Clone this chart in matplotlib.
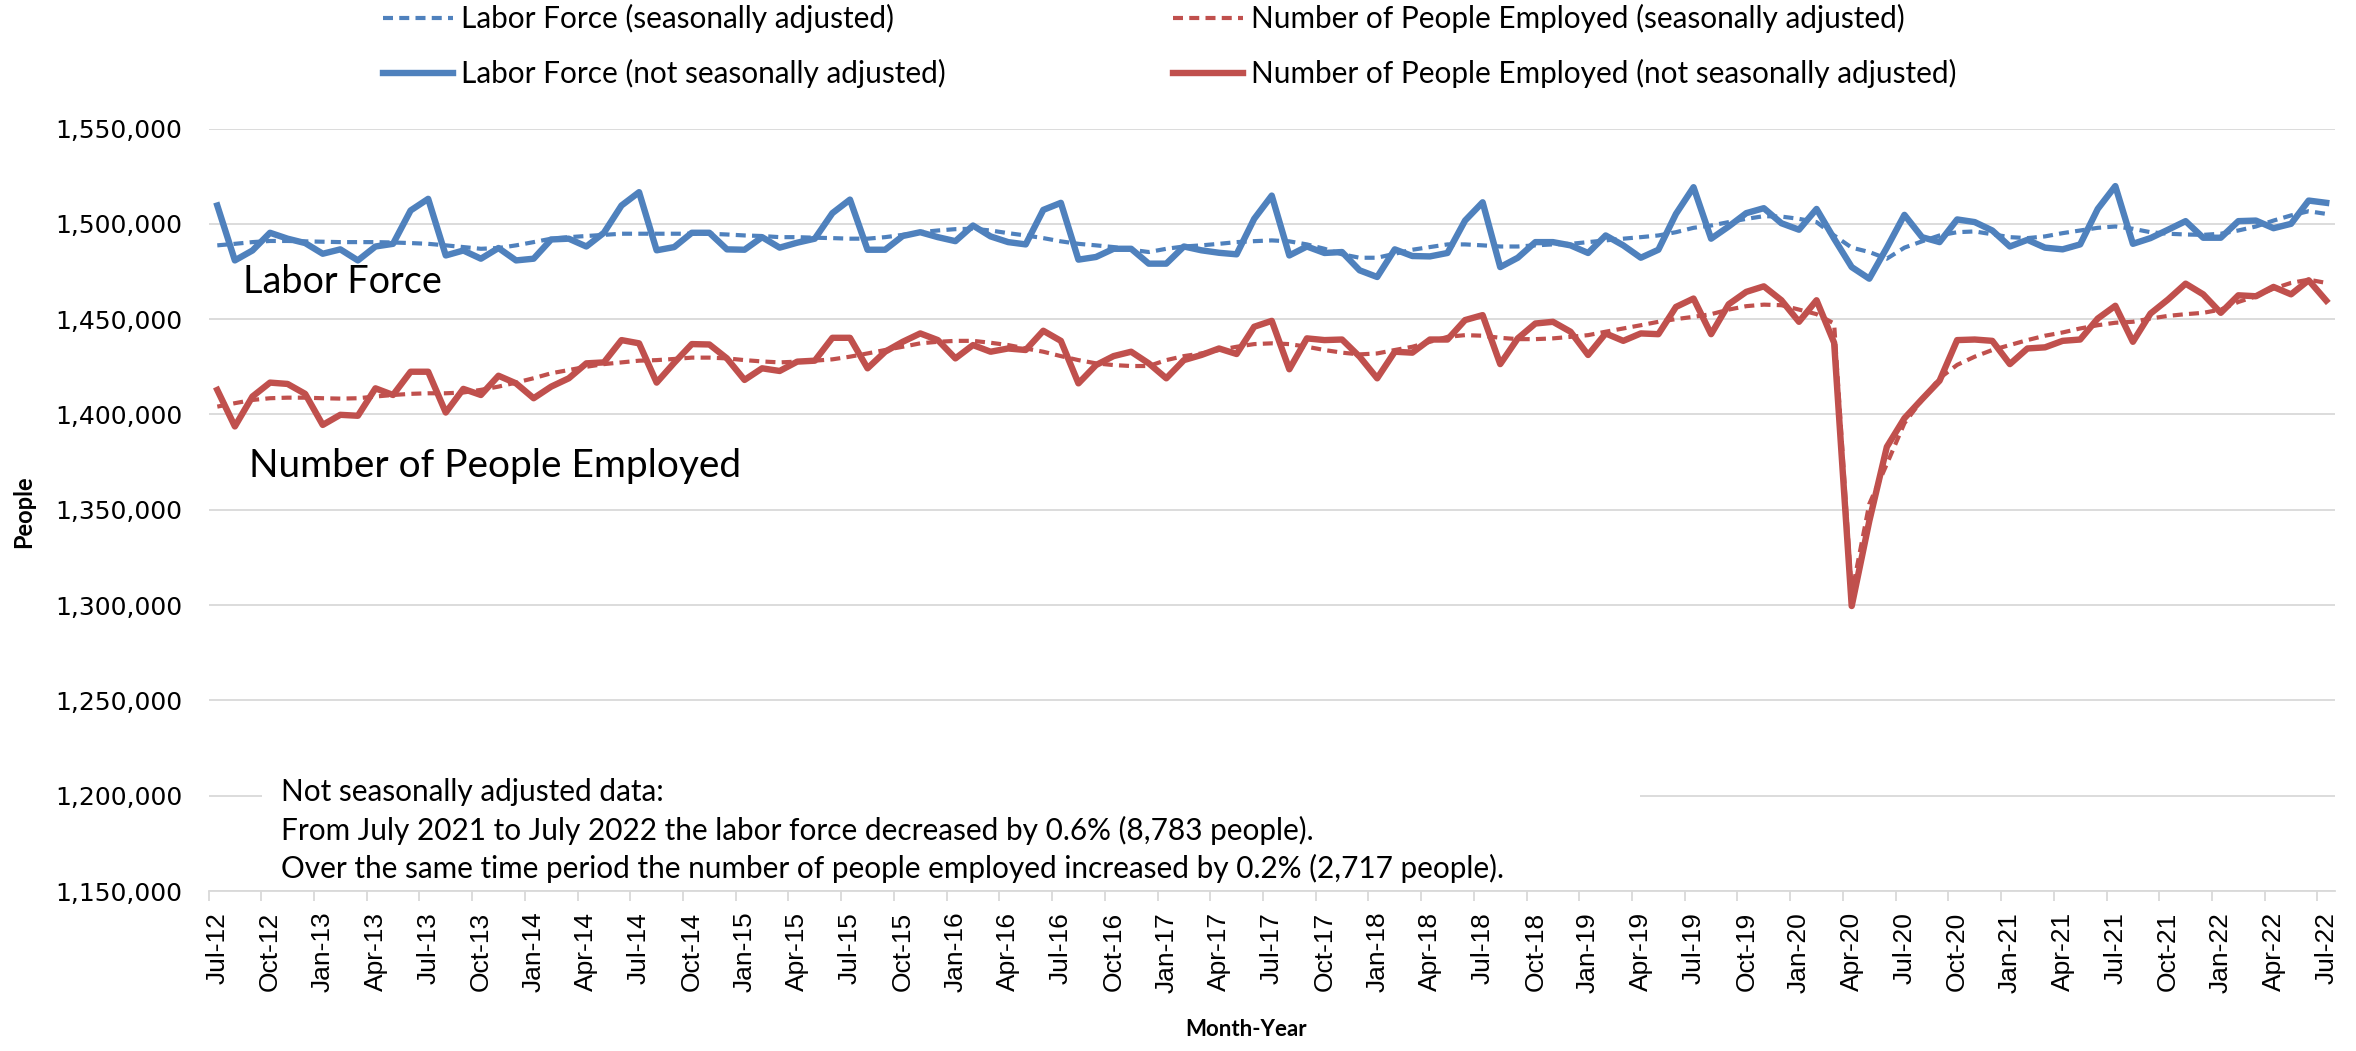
import matplotlib
matplotlib.use("Agg")
import matplotlib.pyplot as plt
import numpy as np
import pandas as pd
from matplotlib.patches import Rectangle
from matplotlib.ticker import FuncFormatter

# ---------------- data ----------------
months = pd.date_range("2012-07-01", "2022-07-01", freq="MS")
month_labels = [d.strftime("%b-%y") for d in months]

labor_force_nsa = [
    1509600, 1480800, 1486000, 1495300, 1492200, 1489900, 1484300, 1486600, 1480800, 1488100,
    1489500, 1507000, 1513100, 1483400, 1486000, 1481700, 1487300, 1480800, 1481700, 1491800,
    1492200, 1488100, 1495300, 1509600, 1516600, 1486100, 1487800, 1495300, 1495300, 1486600,
    1486400, 1493000, 1487500, 1490100, 1492200, 1505600, 1512700, 1486400, 1486400, 1493600,
    1495600, 1493000, 1490900, 1499100, 1493400, 1490400, 1489200, 1507300, 1511000, 1481200,
    1482600, 1486900, 1486900, 1479100, 1479100, 1488100, 1486100, 1484800, 1484000, 1502600,
    1514800, 1483400, 1488100, 1484700, 1485200, 1475600, 1472100, 1486600, 1483100, 1482900,
    1484700, 1501700, 1511300, 1477300, 1482200, 1490400, 1490400, 1488700, 1484700, 1493900,
    1488700, 1482200, 1486400, 1505200, 1519200, 1492200, 1498600, 1505600, 1508200, 1500300,
    1496900, 1507800, 1492200, 1477300, 1471200, 1487500, 1504700, 1493000, 1490400, 1502300,
    1500900, 1496500, 1488100, 1491600, 1487500, 1486600, 1489200, 1507800, 1519800, 1489500,
    1492500, 1496900, 1501400, 1492700, 1492700, 1501400, 1501700, 1497700, 1500000, 1512200,
    1511017,
]

labor_force_sa = [
    1488700, 1489500, 1490400, 1491000, 1491000, 1490800, 1490600, 1490400, 1490400, 1490400,
    1490200, 1489900, 1489500, 1488700, 1487800, 1486900, 1487300, 1488700, 1490400, 1492200,
    1493000, 1493600, 1494200, 1494800, 1494800, 1494800, 1494800, 1494800, 1494800, 1494400,
    1493900, 1493600, 1493000, 1493000, 1492700, 1492500, 1492200, 1492200, 1493000, 1494200,
    1495600, 1496500, 1497200, 1497400, 1496500, 1495100, 1493900, 1492500, 1490800, 1489500,
    1488700, 1487800, 1486400, 1485200, 1486900, 1488100, 1488700, 1489500, 1490400, 1490900,
    1491300, 1490800, 1489200, 1486900, 1484000, 1482200, 1482200, 1484300, 1486400, 1487800,
    1489200, 1489200, 1488700, 1488100, 1488100, 1488700, 1489200, 1489500, 1490400, 1491300,
    1492200, 1493000, 1493900, 1495600, 1497900, 1499100, 1500900, 1502600, 1504000, 1503800,
    1502600, 1500900, 1493900, 1487500, 1485200, 1481700, 1487500, 1490800, 1493900, 1495600,
    1496000, 1494500, 1493000, 1492500, 1493400, 1495100, 1496500, 1497900, 1498600, 1497400,
    1495600, 1494800, 1494400, 1494200, 1494800, 1496500, 1498600, 1501700, 1504400, 1506600,
    1505200,
]

employed_nsa = [
    1412850, 1393700, 1409400, 1416700, 1416000, 1410800, 1394500, 1399800, 1399300, 1413700,
    1410200, 1422400, 1422400, 1401000, 1413400, 1410200, 1420300, 1416300, 1408500, 1414600,
    1418950, 1426800, 1427300, 1439000, 1437300, 1416700, 1427100, 1436900, 1436700, 1429400,
    1418100, 1424200, 1422800, 1427700, 1428200, 1440200, 1440200, 1424200, 1432900, 1438100,
    1442500, 1439000, 1429400, 1436400, 1432900, 1434600, 1433800, 1443900, 1438600, 1416300,
    1425900, 1430600, 1432900, 1426800, 1418950, 1428500, 1431200, 1434600, 1431700, 1446000,
    1449100, 1423700, 1439900, 1439000, 1439300, 1430300, 1418950, 1432900, 1432400, 1439300,
    1439300, 1449500, 1452100, 1426400, 1439900, 1447700, 1448600, 1443400, 1431200, 1442500,
    1438600, 1442500, 1442100, 1456400, 1460800, 1442100, 1457800, 1464300, 1467200, 1459900,
    1448600, 1459900, 1437600, 1299500, 1344000, 1383000, 1398000, 1408000, 1417700, 1439000,
    1439300, 1438600, 1426400, 1434600, 1435200, 1438600, 1439300, 1450300, 1457000, 1438100,
    1452900, 1460300, 1468600, 1463000, 1453300, 1462500, 1462000, 1466900, 1463000, 1470400,
    1459717,
]

employed_sa = [
    1404100, 1405900, 1407600, 1408500, 1408800, 1408800, 1408500, 1408300, 1408500, 1409400,
    1410200, 1410800, 1411100, 1411100, 1411500, 1412900, 1414600, 1416700, 1419000, 1421600,
    1423300, 1425000, 1426400, 1427300, 1428200, 1428500, 1429100, 1429800, 1429800, 1429400,
    1428500, 1427800, 1427300, 1427700, 1428200, 1428900, 1430300, 1432000, 1433800, 1435500,
    1437300, 1438100, 1438600, 1438600, 1437600, 1436400, 1434600, 1432900, 1430600, 1428500,
    1426800, 1425900, 1425400, 1425400, 1428500, 1430600, 1432000, 1433800, 1435500, 1436900,
    1437300, 1436900, 1435500, 1433800, 1432400, 1431500, 1432000, 1433800, 1435500, 1438100,
    1440700, 1441600, 1441300, 1440200, 1439500, 1439500, 1439900, 1440700, 1441600, 1443400,
    1445100, 1446800, 1448600, 1450000, 1451200, 1452600, 1455000, 1456800, 1457600, 1457300,
    1455000, 1452600, 1447700, 1306000, 1353000, 1374000, 1395400, 1407600, 1419000, 1426000,
    1430300, 1433800, 1436400, 1439000, 1441300, 1443000, 1445100, 1446800, 1448100, 1448600,
    1450300, 1451700, 1452600, 1453300, 1455000, 1459000, 1462000, 1466000, 1469000, 1470700,
    1469000,
]

series_names = [
    "Labor Force (seasonally adjusted)",
    "Labor Force (not seasonally adjusted)",
    "Number of People Employed (seasonally adjusted)",
    "Number of People Employed (not seasonally adjusted)",
]

y_ticks = list(range(1150000, 1550001, 50000))

note_lines = [
    "Not seasonally adjusted data:",
    "From July 2021 to July 2022 the labor force decreased by 0.6% (8,783 people).",
    "Over the same time period the number of people employed increased by 0.2% (2,717 people).",
]

# ---------------- style ----------------
W, H = 2356, 1051
BLUE = "#4F81BD"
RED = "#C0504D"
GRID = "#D9D9D9"
TXT_FONT = ["Lato", "DejaVu Sans"]


def fx(px):
    return px / W


def fy(py):
    return 1 - py / H


fig = plt.figure(figsize=(W / 100, H / 100), dpi=100)
ax = fig.add_axes([fx(208.5), fy(891), fx(2335) - fx(208.5), fy(128.5) - fy(891)])

x = np.arange(len(months))
dash = (0, (2.4, 1.5))
l_lf_sa, = ax.plot(x, labor_force_sa, color=BLUE, lw=3.0, ls=dash, zorder=3)
l_lf_nsa, = ax.plot(x, labor_force_nsa, color=BLUE, lw=4.6, zorder=4, solid_joinstyle="round")
l_em_sa, = ax.plot(x, employed_sa, color=RED, lw=3.0, ls=dash, zorder=3)
l_em_nsa, = ax.plot(x, employed_nsa, color=RED, lw=4.6, zorder=4, solid_joinstyle="round")

ax.set_xlim(-0.5, len(months) - 0.5)
ax.set_ylim(y_ticks[0], y_ticks[-1])
ax.set_yticks(y_ticks)
ax.yaxis.set_major_formatter(FuncFormatter(lambda v, p: f"{int(v):,}"))
ax.grid(axis="y", color=GRID, lw=1.3)
ax.set_axisbelow(True)
for s in ["left", "right", "top"]:
    ax.spines[s].set_visible(False)
ax.spines["bottom"].set_color(GRID)
ax.spines["bottom"].set_linewidth(1.3)
ax.tick_params(axis="y", length=0, pad=19, labelsize=18, labelcolor="black")
for lab in ax.get_yticklabels():
    lab.set_family("DejaVu Sans")

# x labels every 3 months, tick marks at category boundaries
lab_pos = x[::3]
ax.set_xticks(lab_pos)
ax.set_xticklabels([month_labels[i] for i in lab_pos], rotation=90,
                   family="Liberation Sans", fontsize=19)
ax.set_xticks(lab_pos - 0.5, minor=True)
ax.tick_params(axis="x", which="major", length=0, pad=15)
ax.tick_params(axis="x", which="minor", length=7, width=1.3, color=GRID)

# axis titles
fig.text(fx(24), fy(512), "People", rotation=90, ha="center", va="center",
         fontsize=17, fontweight="bold", family=TXT_FONT)
fig.text(fx(1246), fy(1030), "Month-Year", ha="center", va="center",
         fontsize=16, fontweight="bold", family=TXT_FONT)

# series labels inside the plot
fig.text(fx(243), fy(282), "Labor Force", ha="left", va="center",
         fontsize=27.2, family=TXT_FONT)
fig.text(fx(249), fy(466), "Number of People Employed", ha="left", va="center",
         fontsize=28, family=TXT_FONT)

# annotation box (white) with note
ax.add_patch(Rectangle((fx(262), fy(889)), fx(1640) - fx(262), fy(758) - fy(889),
                       transform=fig.transFigure, facecolor="white", edgecolor="none",
                       zorder=1, clip_on=False))
for txt, yy in zip(note_lines, [792, 830, 868]):
    fig.text(fx(281), fy(yy), txt, ha="left", va="center", fontsize=21.4, family=TXT_FONT)

# legends (two columns)
leg_kw = dict(frameon=False, loc="center left", handlelength=2.35,
              handletextpad=0.28, labelspacing=0.88, borderpad=0, borderaxespad=0,
              prop={"family": TXT_FONT, "size": 21.4})
fig.legend([l_lf_sa, l_lf_nsa], series_names[:2], bbox_to_anchor=(fx(383), fy(46)), **leg_kw)
fig.legend([l_em_sa, l_em_nsa], series_names[2:], bbox_to_anchor=(fx(1173), fy(46)), **leg_kw)

fig.savefig("out.png", dpi=100)
